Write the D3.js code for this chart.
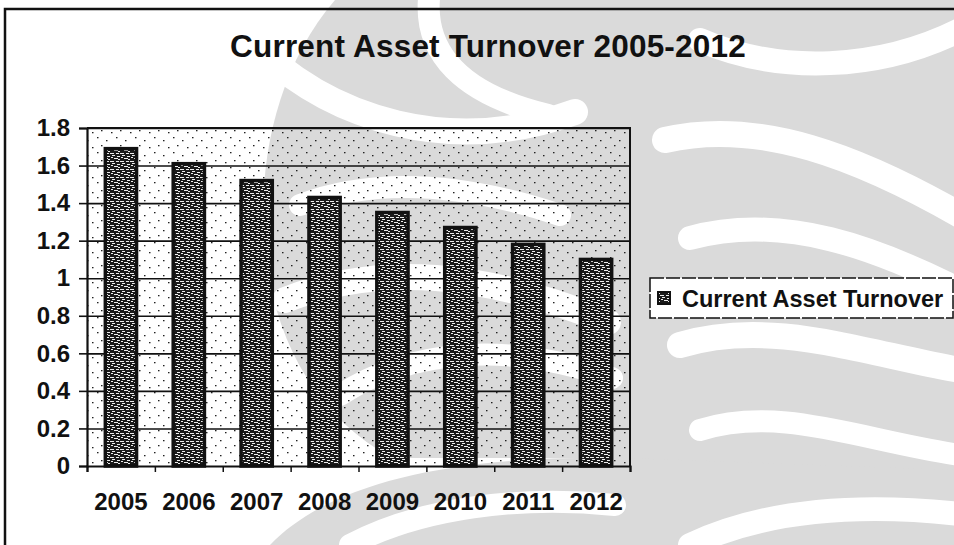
<!DOCTYPE html>
<html>
<head>
<meta charset="utf-8">
<script src="https://cdn.jsdelivr.net/npm/d3@7"></script>
<style>
  html, body { margin: 0; padding: 0; background: #fff; }
  svg { display: block; }
  text { font-family: "Liberation Sans", Arial, sans-serif; fill: #111; }
</style>
</head>
<body>
<svg id="chart" width="954" height="545"></svg>
<script>
// Current asset turnover per year
const years = ["2005", "2006", "2007", "2008", "2009", "2010", "2011", "2012"];
const turnover = [1.69, 1.61, 1.52, 1.43, 1.35, 1.27, 1.18, 1.10];
const yTicks = [0, 0.2, 0.4, 0.6, 0.8, 1, 1.2, 1.4, 1.6, 1.8];
const titleText = "Current Asset Turnover 2005-2012";
const seriesName = "Current Asset Turnover";

const svg = d3.select("#chart");
const W = 954, H = 545;
const plot = { left: 87, right: 630, top: 128, bottom: 466 };
const FONT = "Liberation Sans, Arial, sans-serif";

// ---- patterns -------------------------------------------------------------
const defs = svg.append("defs");

// sparse speckles on the plot area
const speck = defs.append("pattern").attr("id", "speck")
  .attr("patternUnits", "userSpaceOnUse").attr("width", 19).attr("height", 15);
[[2,2],[11,5],[6,10],[16,12]].forEach(([px, py]) =>
  speck.append("rect").attr("x", px).attr("y", py).attr("width", 1.5).attr("height", 1.3).attr("fill", "#222"));

// textured bar fill: dark with short light dashes
const tex = defs.append("pattern").attr("id", "tex")
  .attr("patternUnits", "userSpaceOnUse").attr("width", 10).attr("height", 8);
tex.append("rect").attr("width", 10).attr("height", 8).attr("fill", "#1a1a1a");
[[0,1,4],[6,1,3],[2,3,3],[7,4,3],[1,5,2],[4,6,4],[8,7,2]].forEach(([px, py, w]) =>
  tex.append("rect").attr("x", px).attr("y", py).attr("width", w).attr("height", 1).attr("fill", "#eeeeee"));

// ---- background ornament --------------------------------------------------
const orn = svg.append("g");
const ornFill = [
  // central stem
  "M624,0 L662,0 L662,545 L624,545 Z",
  // left lobe
  "M624,0 L335,0 C275,70 255,170 266,260 C278,350 322,420 392,458 L624,458 Z",
  // right lobe
  "M662,0 L954,0 L954,470 L662,470 Z",
  // lower sweep
  "M270,545 C330,482 455,455 624,458 L954,470 L954,545 Z"
];
orn.selectAll("path.fillp").data(ornFill).join("path")
  .attr("class", "fillp").attr("d", d => d).attr("fill", "#dadada");

const ornCut = [
  ["M245,35 C330,125 455,155 575,112", 26],
  ["M430,-10 C420,55 465,95 548,115", 22],
  ["M300,205 C380,175 470,185 560,215", 22],
  ["M285,300 C380,262 485,272 608,322", 26],
  ["M340,395 C410,350 505,340 612,378", 22],
  ["M700,40 C780,75 880,70 960,30", 24],
  ["M665,140 C760,118 860,158 960,215", 26],
  ["M690,238 C785,212 880,250 960,290", 24],
  ["M680,345 C770,318 860,352 960,370", 26],
  ["M700,430 C780,405 860,440 960,455", 22],
  ["M350,545 C420,508 520,495 615,505", 22],
  ["M690,545 C760,512 850,502 960,514", 24]
];
orn.selectAll("path.cut").data(ornCut).join("path")
  .attr("class", "cut").attr("d", d => d[0])
  .attr("fill", "none").attr("stroke", "#fff").attr("stroke-width", d => d[1]).attr("stroke-linecap", "round");

// ---- frame ----------------------------------------------------------------
svg.append("path")
  .attr("d", `M5,${H} L5,9 L${W},9`)
  .attr("fill", "none").attr("stroke", "#111").attr("stroke-width", 2.5);

// ---- title ----------------------------------------------------------------
svg.append("text")
  .attr("x", 488).attr("y", 57)
  .attr("text-anchor", "middle")
  .attr("font-size", 31.5).attr("font-weight", "bold")
  .attr("letter-spacing", 0.2)
  .text(titleText);

// ---- scales ---------------------------------------------------------------
const x = d3.scaleBand().domain(years)
  .range([plot.left, plot.right]).paddingInner(0.54).paddingOuter(0.27);
const y = d3.scaleLinear().domain([0, 1.8]).range([plot.bottom, plot.top]);
const xEdge = d3.scaleLinear().domain([0, years.length]).range([plot.left, plot.right]);

// plot background
svg.append("rect")
  .attr("x", plot.left).attr("y", plot.top)
  .attr("width", plot.right - plot.left).attr("height", plot.bottom - plot.top)
  .attr("fill", "url(#speck)");

// gridlines
svg.append("g")
  .attr("transform", `translate(${plot.left},0)`)
  .call(d3.axisLeft(y).tickValues(yTicks.slice(1)).tickSize(-(plot.right - plot.left)).tickFormat(""))
  .call(g => g.select(".domain").remove())
  .call(g => g.selectAll("line").attr("stroke", "#111").attr("stroke-width", 1.6));

// bars
svg.append("g").selectAll("rect")
  .data(years.map((yr, i) => ({ yr, v: turnover[i] })))
  .join("rect")
  .attr("x", d => x(d.yr))
  .attr("y", d => y(d.v))
  .attr("width", x.bandwidth())
  .attr("height", d => y(0) - y(d.v))
  .attr("fill", "url(#tex)")
  .attr("stroke", "#111").attr("stroke-width", 3.5);

// plot border (top and right)
svg.append("path")
  .attr("d", `M${plot.left},${plot.top} L${plot.right},${plot.top} L${plot.right},${plot.bottom}`)
  .attr("fill", "none").attr("stroke", "#111").attr("stroke-width", 2);

// y axis
svg.append("g")
  .attr("transform", `translate(${plot.left},0)`)
  .call(d3.axisLeft(y).tickValues(yTicks).tickSize(8).tickPadding(9).tickFormat(d3.format("~g")))
  .call(g => g.select(".domain").attr("stroke", "#111").attr("stroke-width", 2.2))
  .call(g => g.selectAll("line").attr("stroke", "#111").attr("stroke-width", 1.6))
  .call(g => g.selectAll("text")
    .attr("font-size", 24).attr("font-weight", "bold")
    .attr("font-family", FONT).attr("fill", "#111"));

// x axis: boundary ticks
svg.append("g")
  .attr("transform", `translate(0,${plot.bottom})`)
  .call(d3.axisBottom(xEdge).tickValues(d3.range(years.length + 1)).tickSize(6).tickFormat(""))
  .call(g => g.select(".domain").attr("stroke", "#111").attr("stroke-width", 2.2))
  .call(g => g.selectAll("line").attr("stroke", "#111").attr("stroke-width", 1.5));

// x axis: category labels
svg.append("g")
  .attr("transform", `translate(0,${plot.bottom})`)
  .call(d3.axisBottom(x).tickSize(0).tickPadding(27))
  .call(g => g.select(".domain").remove())
  .call(g => g.selectAll("text")
    .attr("font-size", 24).attr("font-weight", "bold")
    .attr("font-family", FONT).attr("fill", "#111"));

// ---- legend ---------------------------------------------------------------
const lg = svg.append("g").attr("transform", "translate(650,278)");
lg.append("rect").attr("width", 303).attr("height", 40)
  .attr("fill", "#fff").attr("stroke", "#111").attr("stroke-width", 1.5)
  .attr("stroke-dasharray", "14 2");
lg.append("rect").attr("x", 8).attr("y", 14).attr("width", 12).attr("height", 12)
  .attr("fill", "url(#tex)").attr("stroke", "#111").attr("stroke-width", 2);
lg.append("text").attr("x", 32).attr("y", 29)
  .attr("font-size", 23.5).attr("font-weight", "bold")
  .text(seriesName);
</script>
</body>
</html>
